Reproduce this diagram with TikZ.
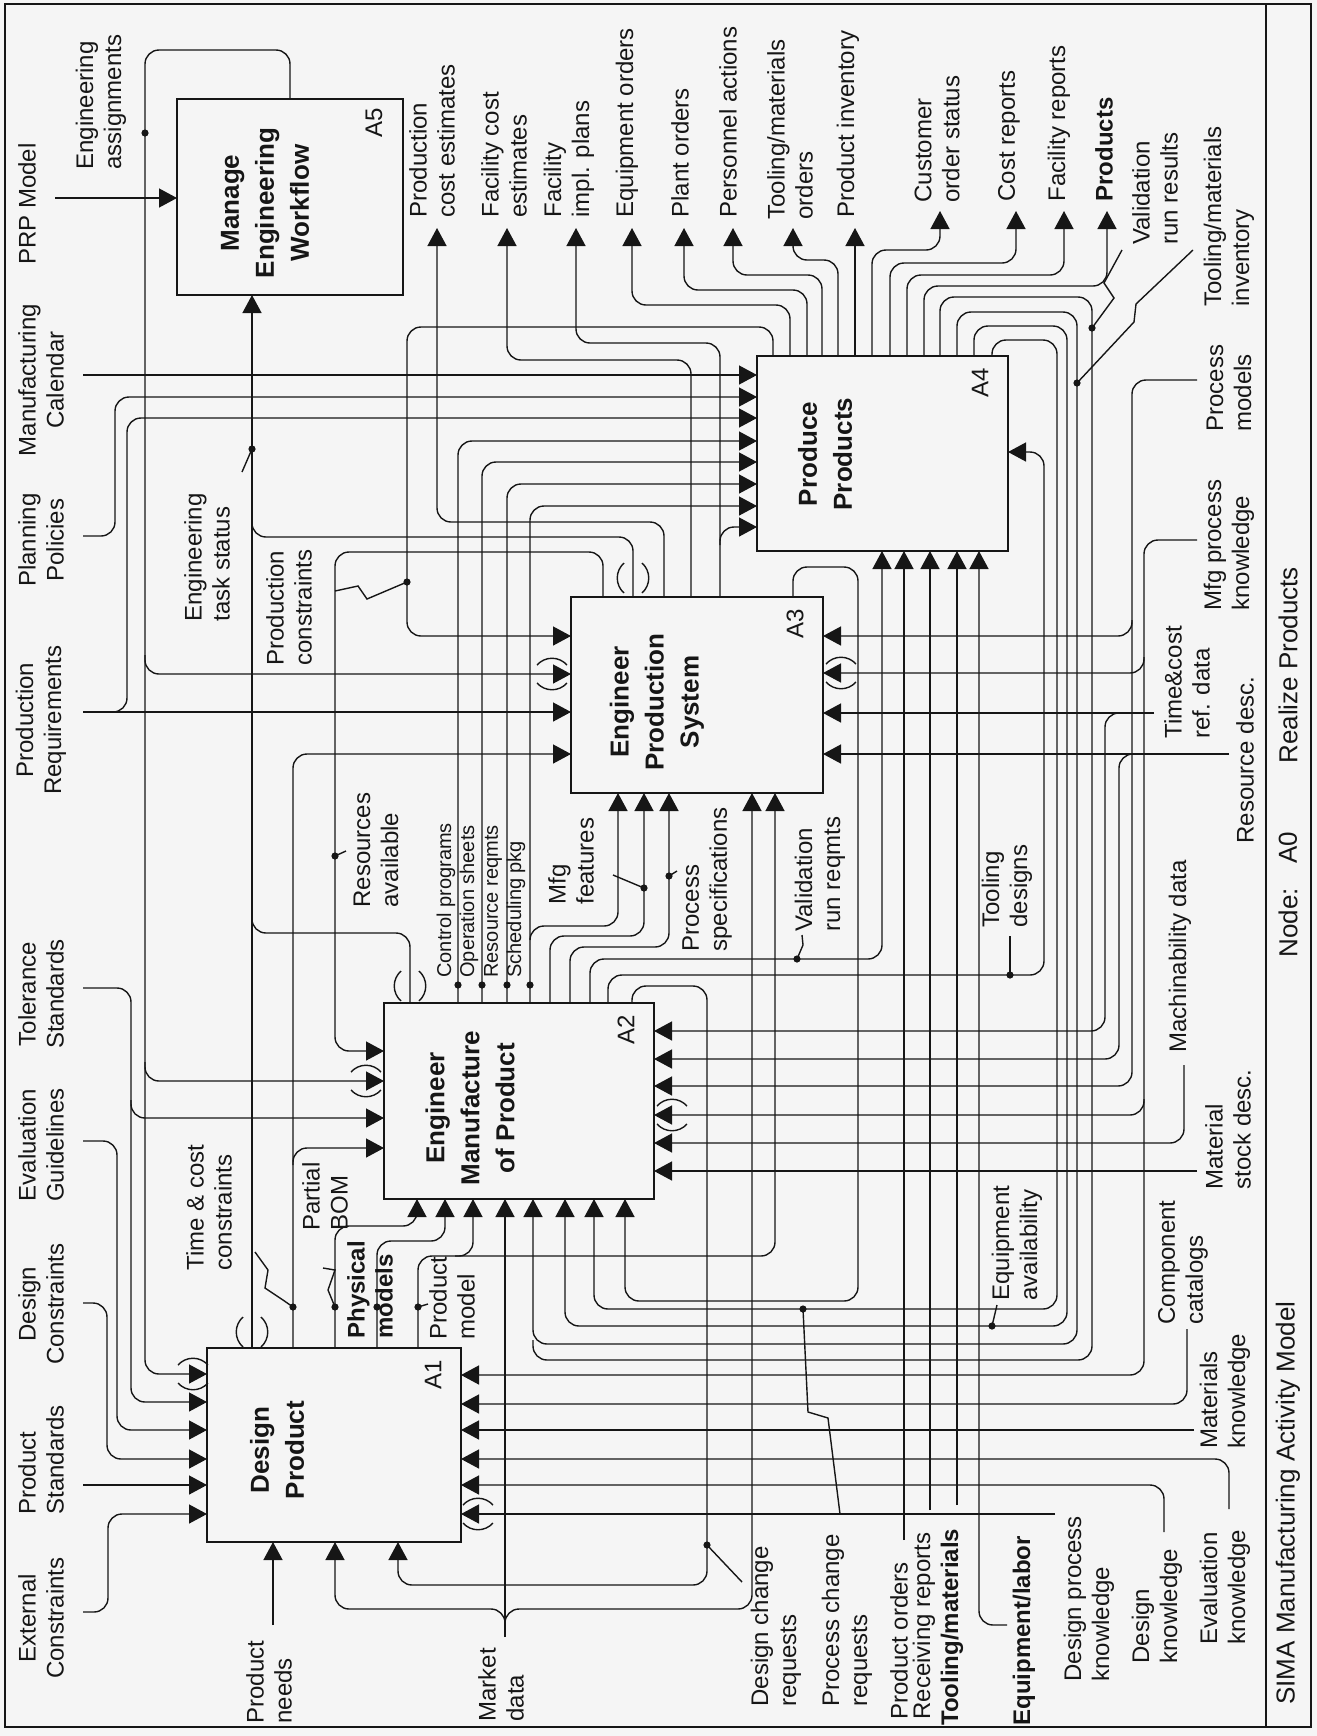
\documentclass[tikz,border=0pt]{standalone}
\usepackage{fontspec}
\setmainfont{Liberation Sans}
\usetikzlibrary{arrows.meta}
\definecolor{bg}{RGB}{245,245,245}
\definecolor{ink}{RGB}{22,22,22}
\newcommand\labfont{\fontsize{12}{14}\selectfont}
\newcommand\smlfont{\fontsize{10}{12}\selectfont}
\newcommand\ttlfont{\bfseries\fontsize{13}{17.5}\selectfont}
\newcommand\ftfont{\fontsize{13}{15}\selectfont}
\newcommand\tunh[2]{%
  \draw[ln] ({#1-15},{#2-9}) .. controls ({#1-7},{#2-18}) and ({#1+7},{#2-18}) .. ({#1+15},{#2-9});
  \draw[ln] ({#1-15},{#2+9}) .. controls ({#1-7},{#2+18}) and ({#1+7},{#2+18}) .. ({#1+15},{#2+9});}
\newcommand\tunv[2]{%
  \draw[ln] ({#1-9},{#2-15}) .. controls ({#1-18},{#2-7}) and ({#1-18},{#2+7}) .. ({#1-9},{#2+15});
  \draw[ln] ({#1+9},{#2-15}) .. controls ({#1+18},{#2-7}) and ({#1+18},{#2+7}) .. ({#1+9},{#2+15});}
\begin{document}
\begin{tikzpicture}[x=0.5pt,y=-0.5pt,
  ln/.style={draw=ink,line width=0.7pt},
  rc/.style={ln,rounded corners=7pt},
  arr/.style={-{Triangle[length=9pt,width=9.5pt]}},
  actbox/.style={draw=ink,line width=0.9pt,fill=bg,inner sep=0pt,outer sep=0pt},
  lab/.style={rotate=90,inner sep=0pt,font=\labfont,align=left,anchor=west,text=ink},
  labc/.style={lab,anchor=center,align=center},
  slab/.style={lab,font=\smlfont},
  blab/.style={lab,font=\bfseries\labfont},
  ttl/.style={rotate=90,inner sep=0pt,font=\ttlfont,align=center,text=ink},
  num/.style={rotate=90,inner sep=0pt,font=\labfont,text=ink},
  foot/.style={rotate=90,inner sep=0pt,font=\ftfont,anchor=west,text=ink},
  dot/.style={circle,fill=ink,inner sep=0pt,minimum size=3.6pt}
]
\useasboundingbox (0,0) rectangle (1317,1736);
\fill[bg] (0,0) rectangle (1317,1736);
% frame
\draw[ln,line width=1pt] (5,4) rectangle (1311,1727);
\draw[ln] (1266,4) -- (1266,1727);

% activity boxes
\node[actbox,minimum width=113pt,minimum height=98pt] (A5) at (290,197) {};
\node[actbox,minimum width=125.5pt,minimum height=97.5pt] (A4) at (882.5,453.5) {};
\node[actbox,minimum width=126pt,minimum height=98pt] (A3) at (697,695) {};
\node[actbox,minimum width=135pt,minimum height=98pt] (A2) at (519,1101) {};
\node[actbox,minimum width=127pt,minimum height=97pt] (A1) at (334,1445) {};

% ---------- controls from the left margin ----------
\draw[ln,arr] (55,198) -- (177,198);
\draw[ln,arr] (83,375) -- (757,375);
\draw[rc,arr] (83,536) -- (115,536) -- (115,397) -- (757,397);
\draw[ln,arr] (83,712) -- (571,712);
\draw[rc,arr] (100,712) -- (127,712) -- (127,418) -- (757,418);
\draw[rc,arr] (83,988) -- (131,988) -- (131,1402) -- (207,1402);
\draw[rc,arr] (131,1100) -- (131,1118) -- (384,1118);
\draw[rc,arr] (83,1141) -- (117,1141) -- (117,1430) -- (207,1430);
\draw[rc,arr] (83,1303) -- (107,1303) -- (107,1459) -- (207,1459);
\draw[ln,arr] (83,1485) -- (207,1485);
\draw[rc,arr] (83,1612) -- (108,1612) -- (108,1514) -- (207,1514);

% engineering assignments (A5 output)
\draw[rc,arr] (290,99) -- (290,50) -- (145,50) -- (145,1374) -- (207,1374);
\draw[rc,arr] (145,655) -- (145,674) -- (571,674);
\draw[rc,arr] (145,1062) -- (145,1081) -- (384,1081);

% engineering task status
\draw[ln,arr] (252,1348) -- (252,295);
\draw[rc] (633,597) -- (633,537) -- (252,537) -- (252,520);
\draw[rc] (410,1003) -- (410,933) -- (252,933) -- (252,915);

% ---------- A3 outputs ----------
\draw[rc,arr] (603,597) -- (603,552) -- (335,552) -- (335,1051) -- (384,1051);
\draw[rc,arr] (664,597) -- (664,522) -- (437,522) -- (437,228);
\draw[rc,arr] (691,597) -- (691,360) -- (507,360) -- (507,228);
\draw[rc,arr] (720,597) -- (720,343) -- (576,343) -- (576,228);
\draw[rc,arr] (720,545) -- (720,527) -- (757,527);
\draw[rc,arr] (793,597) -- (793,567) -- (858,567) -- (858,1301) -- (625,1301) -- (625,1199);

% ---------- A4 outputs ----------
\draw[rc,arr] (773,356) -- (773,327) -- (407,327) -- (407,636) -- (571,636);
\draw[rc,arr] (790,356) -- (790,305) -- (632,305) -- (632,228);
\draw[rc,arr] (807,356) -- (807,290) -- (684,290) -- (684,228);
\draw[rc,arr] (822,356) -- (822,275) -- (733,275) -- (733,228);
\draw[rc,arr] (838,356) -- (838,260) -- (793,260) -- (793,228);
\draw[ln,arr] (855,356) -- (855,228);
\draw[rc,arr] (872,356) -- (872,250) -- (940,250) -- (940,211);
\draw[rc,arr] (890,356) -- (890,263) -- (1016,263) -- (1016,211);
\draw[rc,arr] (907,356) -- (907,275) -- (1064,275) -- (1064,211);
\draw[rc,arr] (924,356) -- (924,286) -- (1107,286) -- (1107,211);
\draw[rc] (940,356) -- (940,297) -- (1092,297) -- (1092,1360) -- (533,1360) -- (533,1340);
\draw[rc,arr] (957,356) -- (957,312) -- (1077,312) -- (1077,1344) -- (533,1344) -- (533,1199);
\draw[rc,arr] (974,356) -- (974,326) -- (1067,326) -- (1067,1326) -- (565,1326) -- (565,1199);
\draw[rc,arr] (992,356) -- (992,340) -- (1057,340) -- (1057,1309) -- (594,1309) -- (594,1199);

% ---------- A2 outputs ----------
\draw[rc,arr] (458,1003) -- (458,441) -- (757,441);
\draw[rc,arr] (482,1003) -- (482,462) -- (757,462);
\draw[rc,arr] (507,1003) -- (507,484) -- (757,484);
\draw[rc,arr] (530,1003) -- (530,506) -- (757,506);
\draw[rc,arr] (530,940) -- (530,926) -- (618,926) -- (618,793);
\draw[rc,arr] (550,1003) -- (550,936) -- (644,936) -- (644,793);
\draw[rc,arr] (570,1003) -- (570,947) -- (669,947) -- (669,793);
\draw[rc,arr] (590,1003) -- (590,959) -- (882,959) -- (882,551);
\draw[rc,arr] (608,1003) -- (608,975) -- (1044,975) -- (1044,452) -- (1008,452);
\draw[rc,arr] (632,1003) -- (632,986) -- (707,986) -- (707,1585) -- (398,1585) -- (398,1542);

% ---------- A1 outputs ----------
\draw[rc,arr] (293,1348) -- (293,754) -- (571,754);
\draw[rc,arr] (293,1165) -- (293,1148) -- (384,1148);
\draw[rc,arr] (335,1348) -- (335,1226) -- (417,1226) -- (417,1199);
\draw[rc,arr] (377,1348) -- (377,1241) -- (445,1241) -- (445,1199);
\draw[rc,arr] (418,1348) -- (418,1256) -- (775,1256) -- (775,793);
\draw[rc,arr] (455,1256) -- (473,1256) -- (473,1199);

% ---------- inputs from the bottom ----------
\draw[ln,arr] (273,1625) -- (273,1542);
\draw[ln,arr] (505,1637) -- (505,1199);
\draw[rc,arr] (505,1625) -- (505,1609) -- (335,1609) -- (335,1542);
\draw[rc,arr] (505,1625) -- (505,1609) -- (752,1609) -- (752,793);
\draw[ln,arr] (904,1540) -- (904,551);
\draw[ln,arr] (930,1510) -- (930,551);
\draw[ln,arr] (957,1505) -- (957,551);
\draw[rc,arr] (1007,1625) -- (979,1625) -- (979,551);

% ---------- mechanisms from the right ----------
\draw[rc,arr] (1197,380) -- (1132,380) -- (1132,1086) -- (654,1086);
\draw[rc,arr] (1132,620) -- (1132,636) -- (823,636);
\draw[rc,arr] (1197,540) -- (1144,540) -- (1144,1375) -- (461,1375);
\draw[rc,arr] (1144,657) -- (1144,673) -- (823,673);
\draw[rc,arr] (1144,1099) -- (1144,1115) -- (654,1115);
\draw[ln,arr] (1154,713) -- (823,713);
\draw[rc,arr] (1120,713) -- (1105,713) -- (1105,1031) -- (654,1031);
\draw[ln,arr] (1229,754) -- (823,754);
\draw[rc,arr] (1135,754) -- (1119,754) -- (1119,1059) -- (654,1059);
\draw[rc,arr] (1184,1065) -- (1184,1143) -- (654,1143);
\draw[ln,arr] (1197,1171) -- (654,1171);
\draw[rc,arr] (1187,1329) -- (1187,1404) -- (461,1404);
\draw[ln,arr] (1194,1430) -- (461,1430);
\draw[rc,arr] (1229,1509) -- (1229,1459) -- (461,1459);
\draw[rc,arr] (1164,1532) -- (1164,1485) -- (461,1485);
\draw[ln,arr] (1055,1514) -- (461,1514);

% ---------- tunnels ----------
\tunh{193}{1374}
\tunv{252}{1332}
\tunh{478}{1514}
\tunh{366}{1081}
\tunv{410}{986}
\tunh{672}{1115}
\tunh{552}{674}
\tunv{633}{578}
\tunh{841}{673}

% ---------- dots and leaders ----------
\node[dot] (dEA) at (145,133) {};
\node[dot] (dETS) at (252,449) {};
\draw[ln] (dETS.center) -- (242,472);
\node[dot] (dPC) at (407,582) {};
\draw[ln] (335,591) -- (358,586) -- (367,599) -- (dPC.center);
\node[dot] (dRA) at (335,856) {};
\draw[ln] (dRA.center) -- (346,851);
\node[dot] (dTC) at (293,1307) {};
\draw[ln] (255,1252) -- (268,1270) -- (265,1288) -- (283,1300) -- (dTC.center);
\node[dot] (dPB) at (335,1307) {};
\draw[ln] (323,1268) -- (335,1270) -- (328,1290) -- (dPB.center);
\node[dot] (dPM) at (377,1307) {};
\node[dot] (dPrM) at (418,1307) {};
\draw[ln] (dPrM.center) -- (428,1304);
\node[dot] (dCP) at (458,985) {};
\node[dot] (dOS) at (482,985) {};
\node[dot] (dRR) at (507,985) {};
\node[dot] (dSP) at (530,985) {};
\node[dot] (dMF) at (644,888) {};
\draw[ln] (613,875) -- (dMF.center);
\node[dot] (dPS) at (669,876) {};
\draw[ln] (dPS.center) -- (677,871);
\node[dot] (dVR) at (797,959) {};
\draw[ln] (dVR.center) -- (803,945) -- (802,935);
\node[dot] (dTD) at (1010,975) {};
\draw[ln] (dTD.center) -- (1010,936);
\node[dot] (dEqA) at (992,1326) {};
\draw[ln] (dEqA.center) -- (997,1305);
\node[dot] (dDCR) at (707,1545) {};
\draw[ln] (dDCR.center) -- (742,1582);
\node[dot] (dPCR) at (803,1309) {};
\draw[ln] (dPCR.center) -- (808,1412) -- (828,1418) -- (840,1514);
\node[dot] (dVRR) at (1092,328) {};
\draw[ln] (dVRR.center) -- (1114,298) -- (1104,283) -- (1122,250);
\node[dot] (dTMI) at (1077,383) {};
\draw[ln] (dTMI.center) -- (1134,322) -- (1136,304) -- (1193,250);

% ---------- box titles and numbers ----------
\node[ttl] (tA5) at (265,203) {Manage\\Engineering\\Workflow};
\node[ttl] (tA4) at (825,454) {Produce\\Products};
\node[ttl] (tA3) at (657,702) {Engineer\\Production\\System};
\node[ttl] (tA2) at (470,1108) {Engineer\\Manufacture\\of Product};
\node[ttl] (tA1) at (277,1450) {Design\\Product};
\node[num] (nA5) at (374,123) {A5};
\node[num] (nA4) at (980,383) {A4};
\node[num] (nA3) at (795,624) {A3};
\node[num] (nA2) at (626,1030) {A2};
\node[num] (nA1) at (433,1375) {A1};

% ---------- left margin labels ----------
\node[labc] (lPRP) at (27,204) {PRP Model};
\node[labc] (lMC) at (41,380) {Manufacturing\\Calendar};
\node[labc] (lPP) at (41,540) {Planning\\Policies};
\node[labc] (lPR) at (41,720) {Production\\Requirements};
\node[labc] (lTS) at (41,994) {Tolerance\\Standards};
\node[labc] (lEG) at (41,1145) {Evaluation\\Guidelines};
\node[labc] (lDC) at (41,1304) {Design\\Constraints};
\node[lab] (lPS) at (41,1515) {Product\\Standards};
\node[labc] (lEC) at (41,1618) {External\\Constraints};

% ---------- top labels ----------
\node[lab] (lEA) at (101,170) {Engineering\\assignments};
\node[lab] (lPCE) at (432,218) {Production\\cost estimates};
\node[lab] (lFCE) at (504,218) {Facility cost\\estimates};
\node[lab] (lFIP) at (569,218) {Facility\\impl. plans};
\node[lab] (lEO) at (627,218) {Equipment orders};
\node[lab] (lPlO) at (680,218) {Plant orders};
\node[lab] (lPA) at (728,218) {Personnel actions};
\node[lab] (lTMO) at (790,220) {Tooling/materials\\orders};
\node[lab] (lPI) at (848,218) {Product inventory};
\node[lab] (lCOS) at (937,203) {Customer\\order status};
\node[lab] (lCR) at (1009,202) {Cost reports};
\node[lab] (lFR) at (1059,202) {Facility reports};
\node[blab] (lPr) at (1104,202) {Products};
\node[lab] (lVRR) at (1155,245) {Validation\\run results};
\node[lab] (lTMI) at (1229,307) {Tooling/materials\\inventory};

% ---------- right labels ----------
\node[lab] (lPMo) at (1229,432) {Process\\models};
\node[lab] (lMPK) at (1229,611) {Mfg process\\knowledge};
\node[lab] (lTCR) at (1187,739) {Time\&cost\\ref. data};
\node[lab] (lRD) at (1245,844) {Resource desc.};
\node[lab] (lMD) at (1180,1053) {Machinability data};
\node[lab] (lMSD) at (1228,1190) {Material\\stock desc.};
\node[lab] (lCC) at (1183,1325) {Component\\catalogs};
\node[lab] (lMK) at (1225,1449) {Materials\\knowledge};
\node[lab] (lEK) at (1225,1645) {Evaluation\\knowledge};
\node[lab] (lDK) at (1157,1664) {Design\\knowledge};
\node[lab] (lDPK) at (1089,1682) {Design process\\knowledge};

% ---------- bottom labels ----------
\node[lab] (lPN) at (269,1724) {Product\\needs};
\node[lab] (lMkD) at (501,1722) {Market\\data};
\node[lab] (lDCR) at (776,1707) {Design change\\requests};
\node[lab] (lPCR) at (847,1707) {Process change\\requests};
\node[lab] (lPO) at (899,1720) {Product orders};
\node[lab] (lRR) at (924,1720) {Receiving reports};
\node[blab] (lTM) at (952,1726) {Tooling/materials};
\node[blab] (lEL) at (1024,1726) {Equipment/labor};

% ---------- inner labels ----------
\node[lab] (lETS) at (207,622) {Engineering\\task status};
\node[lab] (lPCo) at (289,666) {Production\\constraints};
\node[lab] (lRA) at (376,908) {Resources\\available};
\node[slab] (lCPg) at (446,978) {Control programs};
\node[slab] (lOSh) at (469,978) {Operation sheets};
\node[slab] (lRRq) at (493,978) {Resource reqmts};
\node[slab] (lSPk) at (516,978) {Scheduling pkg};
\node[lab] (lMF) at (571,905) {Mfg\\features};
\node[lab] (lPSp) at (707,952) {Process\\specifications};
\node[lab] (lVRq) at (820,932) {Validation\\run reqmts};
\node[lab] (lTD) at (1007,928) {Tooling\\designs};
\node[lab] (lEqA) at (1017,1301) {Equipment\\availability};
\node[lab] (lTCC) at (209,1271) {Time \& cost\\constraints};
\node[lab] (lPBOM) at (325,1231) {Partial\\BOM};
\node[blab] (lPhM) at (370,1339) {Physical\\models};
\node[lab] (lPrM) at (452,1340) {Product\\model};

% ---------- footer ----------
\node[foot] (fT) at (1288,1705) {SIMA Manufacturing Activity Model};
\node[foot] (fN) at (1288,958) {Node:};
\node[foot] (fA) at (1288,864) {A0};
\node[foot] (fR) at (1288,764) {Realize Products};
\end{tikzpicture}
\end{document}
